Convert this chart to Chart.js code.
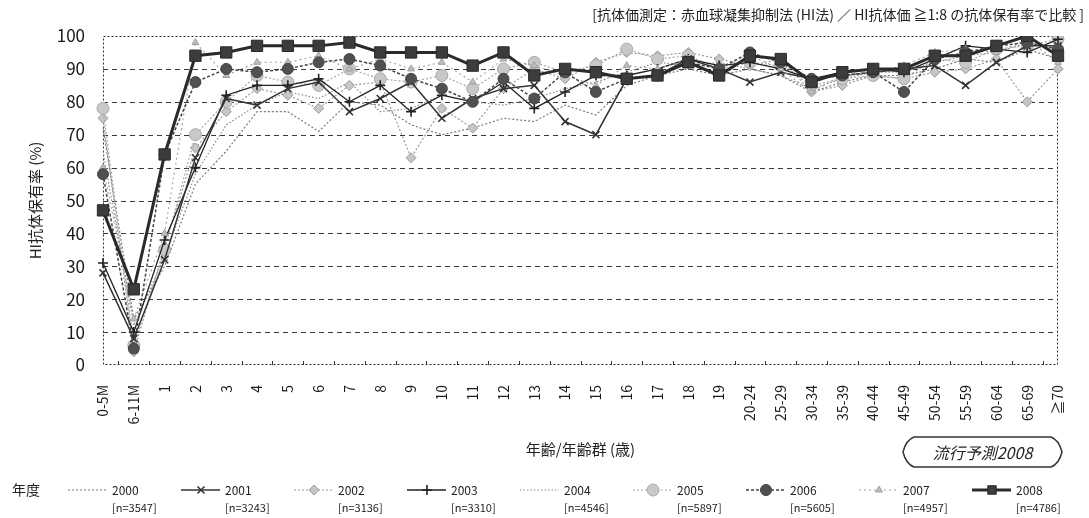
<!DOCTYPE html>
<html lang="ja">
<head>
<meta charset="utf-8">
<script src="https://cdn.jsdelivr.net/npm/chart.js@4.4.1/dist/chart.umd.min.js"></script>
<style>
  html, body { margin: 0; padding: 0; background: #ffffff; }
  #wrap { width: 1089px; height: 518px; position: relative; }
</style>
</head>
<body>
<div id="wrap"><canvas id="c" width="1089" height="518"></canvas></div>
<script>
// Age groups on the horizontal axis
const ageGroups = ['0-5M', '6-11M', '1', '2', '3', '4', '5', '6', '7', '8', '9', '10',
  '11', '12', '13', '14', '15', '16', '17', '18', '19', '20-24', '25-29', '30-34',
  '35-39', '40-44', '45-49', '50-54', '55-59', '60-64', '65-69', '≧70'];

// Percentage ticks on the vertical axis
const yTicks = [0, 10, 20, 30, 40, 50, 60, 70, 80, 90, 100];

// Survey years and sample sizes
const years = ['2000', '2001', '2002', '2003', '2004', '2005', '2006', '2007', '2008'];
const sampleSizes = ['[n=3547]', '[n=3243]', '[n=3136]', '[n=3310]', '[n=4546]',
  '[n=5897]', '[n=5605]', '[n=4957]', '[n=4786]'];

// HI antibody prevalence (%) per age group, one array per survey year
const rate2000 = [72, 14, 30, 55, 65, 77, 77, 71, 80, 79, 73, 70, 72, 75, 74, 79, 76, 85, 88, 90, 88, 90, 88, 83, 86, 88, 88, 90, 93, 92, 96, 93];
const rate2001 = [28, 8, 32, 63, 81, 79, 84, 86, 77, 81, 86, 75, 81, 84, 85, 74, 70, 87, 88, 93, 90, 86, 89, 87, 88, 89, 90, 91, 85, 92, 97, 97];
const rate2002 = [75, 4, 36, 66, 77, 84, 82, 78, 85, 86, 63, 78, 72, 84, 90, 87, 92, 95, 94, 95, 93, 91, 93, 83, 85, 88, 87, 89, 90, 93, 80, 90];
const rate2003 = [31, 10, 38, 60, 82, 85, 85, 87, 80, 85, 77, 82, 80, 86, 78, 83, 88, 88, 90, 93, 91, 92, 90, 87, 89, 90, 89, 93, 97, 96, 95, 99];
const rate2004 = [65, 12, 33, 58, 73, 79, 83, 81, 86, 77, 78, 82, 80, 79, 81, 84, 86, 89, 92, 91, 92, 90, 88, 84, 87, 89, 89, 92, 94, 95, 98, 96];
const rate2005 = [78, 6, 35, 70, 80, 88, 86, 85, 90, 87, 86, 88, 84, 90, 92, 89, 91, 96, 93, 94, 90, 92, 91, 85, 87, 88, 87, 93, 92, 96, 97, 99];
const rate2006 = [58, 5, 64, 86, 90, 89, 90, 92, 93, 91, 87, 84, 80, 87, 81, 89, 83, 87, 88, 92, 90, 95, 92, 87, 88, 89, 83, 93, 95, 97, 98, 96];
const rate2007 = [60, 14, 40, 98, 88, 92, 92, 94, 90, 93, 90, 92, 86, 93, 91, 88, 85, 91, 90, 93, 87, 94, 90, 83, 88, 89, 91, 95, 96, 95, 99, 92];
const rate2008 = [47, 23, 64, 94, 95, 97, 97, 97, 98, 95, 95, 95, 91, 95, 88, 90, 89, 87, 88, 92, 88, 94, 93, 86, 89, 90, 90, 94, 94, 97, 100, 94];

const FONT = "'Noto Sans CJK JP', 'Noto Sans', sans-serif";

// Line and marker style for each year (grey scale)
const styles = [
  { line: '#7a7a7a', width: 1.2, dash: [2, 2], style: 'circle', r: 0, fill: '#7a7a7a', order: 8 },
  { line: '#333333', width: 1.5, dash: [], style: 'crossRot', r: 5, fill: '#333333', order: 3 },
  { line: '#9a9a9a', width: 1.2, dash: [2, 2], style: 'rectRot', r: 5, fill: '#c6c6c6', order: 6 },
  { line: '#222222', width: 1.3, dash: [], style: 'cross', r: 5, fill: '#222222', order: 4 },
  { line: '#8a8a8a', width: 1.2, dash: [1.5, 2], style: 'circle', r: 0, fill: '#8a8a8a', order: 7 },
  { line: '#a8a8a8', width: 1.2, dash: [2, 2], style: 'circle', r: 6, fill: '#c8c8c8', order: 5 },
  { line: '#444444', width: 1.5, dash: [3, 2], style: 'circle', r: 5.5, fill: '#505050', order: 1 },
  { line: '#a0a0a0', width: 1.1, dash: [2, 3], style: 'triangle', r: 4, fill: '#bdbdbd', order: 2 },
  { line: '#2a2a2a', width: 3, dash: [], style: 'rect', r: 8, fill: '#3c3c3c', order: 0 }
];
const series = [rate2000, rate2001, rate2002, rate2003, rate2004, rate2005, rate2006, rate2007, rate2008];

const datasets = series.map((data, i) => {
  const s = styles[i];
  const isCross = s.style === 'crossRot' || s.style === 'cross';
  return {
    label: years[i],
    data: data,
    borderColor: s.line,
    borderWidth: s.width,
    borderDash: s.dash,
    backgroundColor: s.fill,
    pointStyle: s.style,
    pointRadius: s.r,
    pointBorderColor: s.line,
    pointBackgroundColor: s.fill,
    pointBorderWidth: isCross ? 1.6 : 1,
    tension: 0,
    fill: false,
    order: s.order
  };
});

// Dashed horizontal grid, dotted frame and small tick marks along the bottom edge
const framePlugin = {
  id: 'frame',
  beforeDatasetsDraw(chart) {
    const { ctx, chartArea: a, scales } = chart;
    ctx.save();
    ctx.strokeStyle = '#3a3a3a';
    ctx.lineWidth = 1;
    ctx.setLineDash([5, 4]);
    yTicks.forEach(v => {
      if (v === yTicks[0] || v === yTicks[yTicks.length - 1]) return;
      const py = Math.round(scales.y.getPixelForValue(v)) + 0.5;
      ctx.beginPath();
      ctx.moveTo(a.left, py);
      ctx.lineTo(a.right, py);
      ctx.stroke();
    });
    ctx.strokeStyle = '#333';
    ctx.setLineDash([2, 2]);
    ctx.strokeRect(a.left + 0.5, a.top + 0.5, a.right - a.left - 1, a.bottom - a.top - 1);
    ctx.setLineDash([]);
    const xs = scales.x;
    for (let i = 0; i < ageGroups.length - 1; i++) {
      const px = (xs.getPixelForTick(i) + xs.getPixelForTick(i + 1)) / 2;
      ctx.beginPath();
      ctx.moveTo(Math.round(px) + 0.5, a.bottom);
      ctx.lineTo(Math.round(px) + 0.5, a.bottom - 4);
      ctx.stroke();
    }
    ctx.restore();
  }
};

// Heading, year legend and forecast badge
const notesPlugin = {
  id: 'notes',
  afterDraw(chart) {
    const { ctx } = chart;
    ctx.save();
    ctx.fillStyle = '#222';
    ctx.textBaseline = 'middle';

    ctx.font = '14px ' + FONT;
    ctx.textAlign = 'right';
    ctx.fillText('[抗体価測定：赤血球凝集抑制法 (HI法) ／ HI抗体価 ≧1:8 の抗体保有率で比較 ]', 1084, 15);

    ctx.textAlign = 'left';
    ctx.font = '14px ' + FONT;
    ctx.fillText('年度', 12, 490);

    chart.data.datasets.forEach((ds, i) => {
      const tx = 112 + i * 113;
      const y = 490;
      ctx.save();
      ctx.strokeStyle = ds.borderColor;
      ctx.lineWidth = ds.borderWidth;
      ctx.setLineDash(ds.borderDash || []);
      ctx.beginPath();
      ctx.moveTo(tx - 44, y);
      ctx.lineTo(tx - 5, y);
      ctx.stroke();
      ctx.setLineDash([]);
      if (ds.pointRadius > 0) {
        ctx.fillStyle = ds.pointBackgroundColor;
        ctx.strokeStyle = ds.pointBorderColor;
        ctx.lineWidth = ds.pointBorderWidth;
        Chart.helpers.drawPoint(ctx, {
          pointStyle: ds.pointStyle,
          radius: Math.min(ds.pointRadius, 6),
          rotation: 0,
          borderWidth: ds.pointBorderWidth
        }, tx - 24, y);
      }
      ctx.restore();
      ctx.fillStyle = '#222';
      ctx.font = '12px ' + FONT;
      ctx.fillText(ds.label, tx, y);
      ctx.font = '11px ' + FONT;
      ctx.fillText(sampleSizes[i], tx, 508);
    });

    // forecast badge
    const bx0 = 903, bx1 = 1062, by0 = 437, by1 = 467, bym = (by0 + by1) / 2;
    ctx.strokeStyle = '#333';
    ctx.lineWidth = 1.5;
    ctx.beginPath();
    ctx.moveTo(bx0, bym);
    ctx.quadraticCurveTo(bx0 + 3, by0 + 3, bx0 + 11, by0);
    ctx.lineTo(bx1 - 11, by0);
    ctx.quadraticCurveTo(bx1 - 3, by0 + 3, bx1, bym);
    ctx.quadraticCurveTo(bx1 - 3, by1 - 3, bx1 - 11, by1);
    ctx.lineTo(bx0 + 11, by1);
    ctx.quadraticCurveTo(bx0 + 3, by1 - 3, bx0, bym);
    ctx.closePath();
    ctx.stroke();
    ctx.fillStyle = '#222';
    ctx.textAlign = 'center';
    ctx.font = 'italic 16px ' + FONT;
    ctx.fillText('流行予測2008', (bx0 + bx1) / 2, bym + 1);
    ctx.restore();
  }
};

new Chart(document.getElementById('c'), {
  type: 'line',
  data: { labels: ageGroups, datasets: datasets },
  plugins: [framePlugin, notesPlugin],
  options: {
    responsive: false,
    animation: false,
    devicePixelRatio: 1,
    layout: { padding: { top: 36, right: 31, bottom: 53, left: 22 } },
    plugins: {
      legend: { display: false },
      title: { display: false },
      tooltip: { enabled: false }
    },
    scales: {
      x: {
        offset: false,
        grid: { display: false },
        border: { display: false },
        ticks: {
          autoSkip: false,
          maxRotation: 90,
          minRotation: 90,
          padding: 12,
          color: '#1a1a1a',
          font: { family: FONT, size: 14 }
        },
        title: {
          display: true,
          text: '年齢/年齢群 (歳)',
          color: '#222',
          font: { family: FONT, size: 15 },
          padding: { top: 4, bottom: 7 }
        },
        afterFit(scale) { scale.height = 100; }
      },
      y: {
        min: yTicks[0],
        max: yTicks[yTicks.length - 1],
        afterBuildTicks(scale) { scale.ticks = yTicks.map(v => ({ value: v })); },
        grid: { display: false, drawTicks: false },
        border: { display: false },
        ticks: {
          padding: 18,
          color: '#1a1a1a',
          font: { family: FONT, size: 17 }
        },
        title: {
          display: true,
          text: 'HI抗体保有率 (%)',
          color: '#222',
          font: { family: FONT, size: 15 },
          padding: { top: 4, bottom: 4 }
        },
        afterFit(scale) { scale.width = 81; }
      }
    }
  }
});
</script>
</body>
</html>
